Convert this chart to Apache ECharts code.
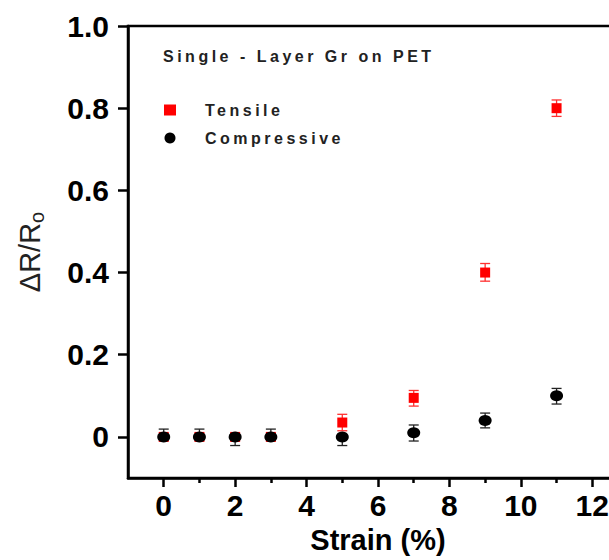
<!DOCTYPE html>
<html>
<head>
<meta charset="utf-8">
<script src="https://cdn.jsdelivr.net/npm/echarts@6/dist/echarts.min.js"></script>
<style>
html,body{margin:0;padding:0;background:#fff;}
#chart{width:609px;height:560px;}
</style>
</head>
<body>
<div id="chart"></div>
<script>
// ---- data ----
const strain = [0, 1, 2, 3, 5, 7, 9, 11];
const tensile = [0, 0, 0, 0, 0.035, 0.095, 0.40, 0.80];
const tensileErrUp = [0, 0, 0, 0, 0.02, 0.018, 0.022, 0.02];
const tensileErrDown = [0, 0, 0, 0, 0.02, 0.02, 0.021, 0.02];
const compressive = [0, 0, 0, 0, 0, 0.01, 0.04, 0.10];
const compErrUp = [0.019, 0.019, 0, 0.019, 0, 0.019, 0.018, 0.018];
const compErrDown = [0, 0, 0.021, 0, 0.021, 0.02, 0.018, 0.02];
const xMajorTicks = [0, 2, 4, 6, 8, 10, 12];
const xMinorTicks = [1, 3, 5, 7, 9, 11];
const yTicks = [0, 0.2, 0.4, 0.6, 0.8, 1.0];
const seriesNames = ['Tensile', 'Compressive'];
const panelTitle = 'Single - Layer Gr on PET';

const FONT = '"Liberation Sans", Arial, sans-serif';

function pts(ys) { return strain.map((x, i) => [x, ys[i]]); }
function errData(ys, up, down) {
  return strain.map((x, i) => [x, ys[i], ys[i] - down[i], ys[i] + up[i]]);
}
function errRender(color) {
  return function (params, api) {
    const x = api.value(0);
    const y = api.value(1);
    const lo = api.value(2);
    const hi = api.value(3);
    const pc = api.coord([x, y]);
    const pl = api.coord([x, lo]);
    const ph = api.coord([x, hi]);
    const cap = 5;
    const st = { stroke: color, lineWidth: 1.3 };
    const children = [];
    if (hi > y) {
      children.push({ type: 'line', shape: { x1: pc[0], y1: pc[1], x2: ph[0], y2: ph[1] }, style: st });
      children.push({ type: 'line', shape: { x1: ph[0] - cap, y1: ph[1], x2: ph[0] + cap, y2: ph[1] }, style: st });
    }
    if (lo < y) {
      children.push({ type: 'line', shape: { x1: pc[0], y1: pc[1], x2: pl[0], y2: pl[1] }, style: st });
      children.push({ type: 'line', shape: { x1: pl[0] - cap, y1: pl[1], x2: pl[0] + cap, y2: pl[1] }, style: st });
    }
    return { type: 'group', children: children };
  };
}

const chart = echarts.init(document.getElementById('chart'), null, { renderer: 'svg' });
const gridTop = 26, gridBottom = 82;
const gridH = 560 - gridTop - gridBottom;

chart.setOption({
  animation: false,
  backgroundColor: '#fff',
  grid: {
    left: 128, width: 500, top: gridTop, bottom: gridBottom,
    outerBoundsMode: 'none', containLabel: false,
    show: true, borderColor: '#000', borderWidth: 2.5, backgroundColor: 'transparent'
  },
  xAxis: [{
    type: 'value', min: -1, max: 13, position: 'bottom',
    axisLine: { show: true, onZero: false, lineStyle: { color: '#000', width: 2.5 } },
    axisTick: { show: true, customValues: xMajorTicks, length: 9, lineStyle: { color: '#000', width: 2.5 } },
    axisLabel: { customValues: xMajorTicks, color: '#000', fontSize: 30, fontWeight: 'bold', fontFamily: FONT, margin: 12 },
    splitLine: { show: false },
    name: 'Strain (%)', nameLocation: 'middle', nameGap: 47,
    nameTextStyle: { color: '#000', fontSize: 29, fontWeight: 'bold', fontFamily: FONT }
  }, {
    type: 'value', min: -1, max: 13, position: 'top', offset: -gridH,
    axisLine: { show: false },
    axisTick: { show: true, inside: true, customValues: xMinorTicks, length: 5, lineStyle: { color: '#000', width: 2.5 } },
    axisLabel: { show: false },
    splitLine: { show: false }
  }],
  yAxis: {
    type: 'value', min: -0.1, max: 1.0,
    axisLine: { show: true, onZero: false, lineStyle: { color: '#000', width: 2.5 } },
    axisTick: { show: true, customValues: yTicks, length: 10, lineStyle: { color: '#000', width: 2.5 } },
    axisLabel: {
      customValues: yTicks, color: '#000', fontSize: 30, fontWeight: 'bold', fontFamily: FONT, margin: 19,
      formatter: v => (v === 0 ? '0' : v.toFixed(1))
    },
    splitLine: { show: false },
    name: '{a|ΔR/R}{b|o}', nameLocation: 'middle', nameGap: 81,
    nameTextStyle: {
      padding: [0, 0, 0, 0],
      rich: {
        a: { fontSize: 29, fontFamily: FONT, color: '#222', lineHeight: 34, verticalAlign: 'middle' },
        b: { fontSize: 20, fontFamily: FONT, color: '#222', lineHeight: 34, verticalAlign: 'middle', padding: [14, 0, 0, 0] }
      }
    }
  },
  legend: {
    data: seriesNames, orient: 'vertical', left: 159, top: 97,
    itemWidth: 12, itemHeight: 11, itemGap: 12,
    textStyle: { color: '#222', fontSize: 16, fontWeight: 'bold', fontFamily: FONT, padding: [0, 0, 0, 24] }
  },
  graphic: [{
    type: 'text', left: 163, top: 48,
    style: { text: panelTitle, fill: '#222', font: 'bold 16px ' + FONT }
  }],
  series: [
    {
      type: 'custom', name: 'tensileErr', renderItem: errRender('#ff3030'),
      data: errData(tensile, tensileErrUp, tensileErrDown), z: 2, silent: true
    },
    {
      type: 'scatter', name: seriesNames[0], data: pts(tensile), symbol: 'rect', symbolSize: [10, 10],
      itemStyle: { color: '#ff0000', opacity: 1 }, z: 3
    },
    {
      type: 'custom', name: 'compErr', renderItem: errRender('#222'),
      data: errData(compressive, compErrUp, compErrDown), z: 4, silent: true
    },
    {
      type: 'scatter', name: seriesNames[1], data: pts(compressive), symbol: 'circle', symbolSize: [13, 11],
      itemStyle: { color: '#000', opacity: 1 }, z: 5
    }
  ]
});

function spaceTexts() {
  const wanted = new Set([panelTitle].concat(seriesNames));
  document.querySelectorAll('#chart svg text').forEach(t => {
    if (wanted.has(t.textContent.trim())) t.setAttribute('letter-spacing', '3.5');
  });
}
chart.on('finished', spaceTexts);
spaceTexts();
</script>
</body>
</html>
